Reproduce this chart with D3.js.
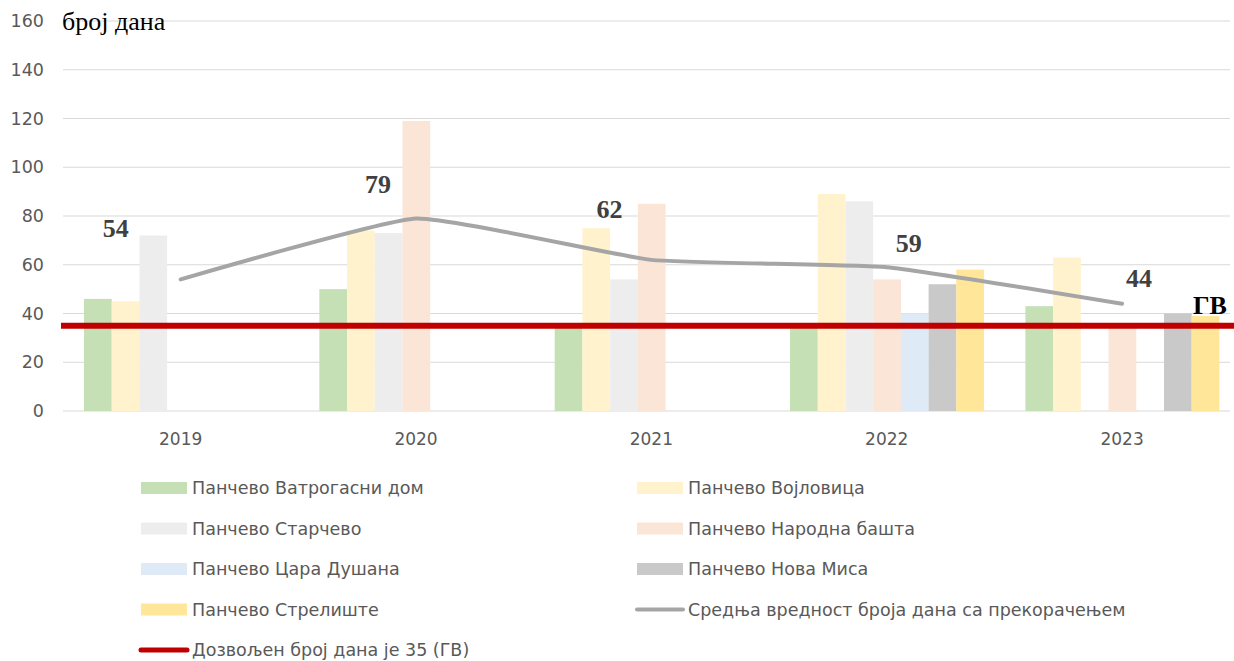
<!DOCTYPE html>
<html>
<head>
<meta charset="utf-8">
<script src="https://cdn.jsdelivr.net/npm/d3@7"></script>
<style>
  body { margin: 0; background: #fff; }
  svg { display: block; }
</style>
</head>
<body>
<script>
// data
const years = ['2019', '2020', '2021', '2022', '2023'];
const stations = [
  'Панчево Ватрогасни дом',
  'Панчево Војловица',
  'Панчево Старчево',
  'Панчево Народна башта',
  'Панчево Цара Душана',
  'Панчево Нова Миса',
  'Панчево Стрелиште'
];
// per station, one value per year (null = no data)
const vatrogasni = [46, 50, 36, 35, 43];
const vojlovica = [45, 74, 75, 89, 63];
const starcevo = [72, 73, 54, 86, null];
const narodnaBasta = [null, 119, 85, 54, 35];
const caraDusana = [null, null, null, 40, null];
const novaMisa = [null, null, null, 52, 40];
const streliste = [null, null, null, 58, 39];
const average = [54, 79, 62, 59, 44];
const limit = 35;
const yTicks = [0, 20, 40, 60, 80, 100, 120, 140, 160];

const seriesValues = [vatrogasni, vojlovica, starcevo, narodnaBasta, caraDusana, novaMisa, streliste];
const colors = ['#c5e0b4', '#fff2cc', '#ededed', '#fbe5d6', '#deebf7', '#c9c9c9', '#ffe699'];

const width = 1234, height = 661;
const sans = '"DejaVu Sans", sans-serif';
const serif = '"Liberation Serif", "Times New Roman", serif';

const svg = d3.select('body').append('svg')
  .attr('width', width).attr('height', height);

const x0 = d3.scaleBand().domain(years).range([63, 1239.75]);
const x1 = d3.scaleBand().domain(d3.range(stations.length)).range([21, 215]);
const y = d3.scaleLinear().domain([0, 160]).range([411, 21]);

// gridlines
svg.append('g').selectAll('line').data(yTicks).enter().append('line')
  .attr('x1', 63).attr('x2', 1230)
  .attr('y1', d => y(d)).attr('y2', d => y(d))
  .attr('stroke', '#d9d9d9').attr('stroke-width', 1);

// y tick labels
svg.append('g').selectAll('text').data(yTicks).enter().append('text')
  .attr('x', 44).attr('y', d => y(d))
  .attr('dy', '0.35em')
  .attr('text-anchor', 'end')
  .attr('font-family', sans)
  .attr('font-size', 17.5)
  .attr('fill', '#595959')
  .text(d => d);

// year labels
svg.append('g').selectAll('text').data(years).enter().append('text')
  .attr('x', d => x0(d) + x0.bandwidth() / 2)
  .attr('y', 439).attr('dy', '0.35em')
  .attr('text-anchor', 'middle')
  .attr('font-family', sans)
  .attr('font-size', 17)
  .attr('fill', '#595959')
  .text(d => d);

// bars
const barData = [];
seriesValues.forEach((vals, s) => {
  vals.forEach((v, i) => {
    if (v != null) barData.push({ s, year: years[i], v });
  });
});
svg.append('g').selectAll('rect').data(barData).enter().append('rect')
  .attr('x', d => x0(d.year) + x1(d.s))
  .attr('y', d => y(d.v))
  .attr('width', x1.bandwidth())
  .attr('height', d => y(0) - y(d.v))
  .attr('fill', d => colors[d.s]);

// average line
const line = d3.line()
  .x((d, i) => x0(years[i]) + x0.bandwidth() / 2)
  .y(d => y(d))
  .curve(d3.curveCardinal.tension(0.6));
svg.append('path').datum(average)
  .attr('d', line)
  .attr('fill', 'none')
  .attr('stroke', '#a5a5a5')
  .attr('stroke-width', 4)
  .attr('stroke-linecap', 'round');

// limit line
svg.append('line')
  .attr('x1', 61).attr('x2', width)
  .attr('y1', y(limit)).attr('y2', y(limit))
  .attr('stroke', '#c00000').attr('stroke-width', 6);

// average labels (hand placed like the original)
const labelDx = [-65, -38, -42, 22, 17];
const labelDy = [-42, -25, -42, -15, -17];
svg.append('g').selectAll('text').data(average).enter().append('text')
  .attr('x', (d, i) => x0(years[i]) + x0.bandwidth() / 2 + labelDx[i])
  .attr('y', (d, i) => y(d) + labelDy[i])
  .attr('text-anchor', 'middle')
  .attr('font-family', serif)
  .attr('font-weight', 'bold')
  .attr('font-size', 26)
  .attr('fill', '#404040')
  .text(d => d);

svg.append('text')
  .attr('x', 1210).attr('y', 314)
  .attr('text-anchor', 'middle')
  .attr('font-family', serif)
  .attr('font-weight', 'bold')
  .attr('font-size', 26)
  .attr('fill', '#000')
  .text('ГВ');

svg.append('text')
  .attr('x', 62).attr('y', 30)
  .attr('font-family', serif)
  .attr('font-size', 26)
  .attr('fill', '#000')
  .text('број дана');

// legend
const legendItems = stations.map((name, i) => ({ name, type: 'rect', color: colors[i] }));
legendItems.push({ name: 'Средња вредност броја дана са прекорачењем', type: 'line', color: '#a5a5a5', w: 4 });
legendItems.push({ name: 'Дозвољен број дана је 35 (ГВ)', type: 'line', color: '#c00000', w: 5 });

const legend = svg.append('g').selectAll('g').data(legendItems).enter().append('g')
  .attr('transform', (d, i) => `translate(${i % 2 === 0 ? 141 : 637},${488 + Math.floor(i / 2) * 40.5})`);
legend.filter(d => d.type === 'rect').append('rect')
  .attr('x', 0).attr('y', -6).attr('width', 46).attr('height', 12)
  .attr('fill', d => d.color);
legend.filter(d => d.type === 'line').append('line')
  .attr('x1', 0).attr('x2', 46).attr('y1', 0).attr('y2', 0)
  .attr('stroke', d => d.color).attr('stroke-width', d => d.w)
  .attr('stroke-linecap', 'round');
legend.append('text')
  .attr('x', 51).attr('y', 0).attr('dy', '0.35em')
  .attr('font-family', sans)
  .attr('font-size', 17.5)
  .attr('fill', '#595959')
  .text(d => d.name);
</script>
</body>
</html>
